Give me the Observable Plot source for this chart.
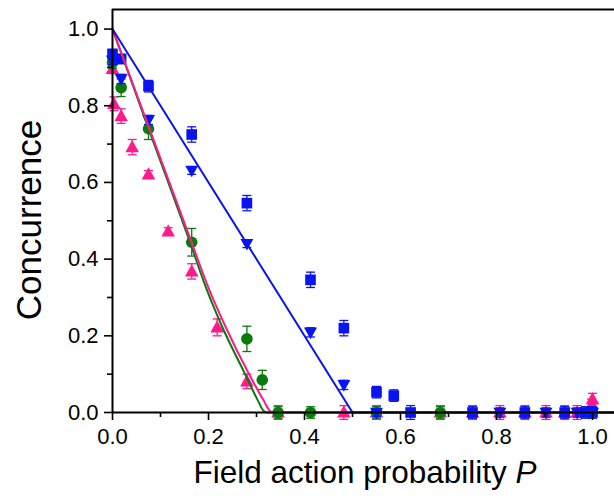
<!DOCTYPE html>
<html><head><meta charset="utf-8">
<script src="https://cdn.jsdelivr.net/npm/d3@7"></script>
<script src="https://cdn.jsdelivr.net/npm/@observablehq/plot@0.6"></script>
<style>body{margin:0;background:#fff} #chart svg{display:block}</style>
</head><body><div id="chart"></div>
<script>
// ---- data ----
const P_sq = [0, 0.018, 0.075, 0.165, 0.28, 0.4125, 0.482, 0.55, 0.586, 0.621, 0.75, 0.859, 0.942, 0.985, 1.0];
const C_sq = [0.935, 0.922, 0.851, 0.725, 0.546, 0.346, 0.22, 0.053, 0.044, 0, 0, 0, 0, 0, 0];
const E_sq = [0.012, 0.012, 0.015, 0.02, 0.02, 0.02, 0.02, 0.015, 0.015, 0.018, 0.015, 0.015, 0.015, 0.015, 0.015];

const P_dt = [0, 0.018, 0.075, 0.165, 0.28, 0.4125, 0.482, 0.55, 0.807, 0.903, 0.968, 1.0];
const C_dt = [0.918, 0.870, 0.763, 0.631, 0.44, 0.209, 0.072, 0, 0, 0, 0, 0];
const E_dt = [0.01, 0.012, 0.012, 0.01, 0.01, 0.012, 0.012, 0.01, 0.012, 0.012, 0.012, 0.01];

const P_ci = [0, 0.018, 0.075, 0.165, 0.28, 0.312, 0.345, 0.4125, 0.55, 0.683];
const C_ci = [0.913, 0.847, 0.740, 0.444, 0.192, 0.085, 0, 0, 0, 0];
const E_ci = [0.015, 0.023, 0.028, 0.036, 0.033, 0.025, 0.015, 0.015, 0.015, 0.015];

const P_tr = [0, 0.003, 0.018, 0.041, 0.075, 0.116, 0.165, 0.218, 0.28, 0.345, 0.482, 0.55, 0.683, 0.75, 0.807, 0.859, 0.903, 0.942, 0.968, 0.998, 1.0];
const C_tr = [0.896, 0.805, 0.773, 0.692, 0.621, 0.472, 0.368, 0.222, 0.081, 0, 0, 0, 0, 0, 0, 0, 0, 0, 0, 0.02, 0.035];
const E_tr = [0.012, 0.018, 0.019, 0.02, 0.01, 0.01, 0.02, 0.022, 0.019, 0.018, 0.018, 0.018, 0.018, 0.018, 0.018, 0.018, 0.018, 0.018, 0.018, 0.015, 0.015];

// theory curves
const P_lineBlue = [0, 0.5, 1.05];
const C_lineBlue = [1, 0, 0];
const P_lineGreen = [0, 0.078, 0.157, 0.195, 0.228, 0.276, 0.303, 0.315, 0.322, 1.05];
const C_lineGreen = [1, 0.73, 0.46, 0.325, 0.225, 0.101, 0.031, 0.004, 0, 0];
const P_linePink = [0, 0.08, 0.16, 0.2, 0.235, 0.284, 0.315, 0.328, 0.336, 1.05];
const C_linePink = [1, 0.73, 0.46, 0.325, 0.225, 0.101, 0.031, 0.004, 0, 0];

const xMajor = [0, 0.2, 0.4, 0.6, 0.8, 1.0];
const xMinor = [0.1, 0.3, 0.5, 0.7, 0.9];
const yMajor = [0, 0.2, 0.4, 0.6, 0.8, 1.0];
const yMinor = [0.1, 0.3, 0.5, 0.7, 0.9];

const BLUE = "#0a14f0", GREEN = "#0a7a0a", PINK = "#ff1a8c";

const toRows = (P, C, E) => P.map((p, i) => ({P: p, C: C[i], E: E ? E[i] : 0}));
const sq = toRows(P_sq, C_sq, E_sq);
const dt = toRows(P_dt, C_dt, E_dt);
const ci = toRows(P_ci, C_ci, E_ci);
const tr = toRows(P_tr, C_tr, E_tr);
const lb = toRows(P_lineBlue, C_lineBlue);
const lg = toRows(P_lineGreen, C_lineGreen);
const lp = toRows(P_linePink, C_linePink);

// custom symbols
const capSym = {draw(ctx, size) { const r = Math.sqrt(size / Math.PI); ctx.moveTo(-r, 0); ctx.lineTo(r, 0); }};
const triUp = {draw(ctx, size) { const r = Math.sqrt(size / Math.PI); ctx.moveTo(0, -r * 1.05); ctx.lineTo(r, r * 0.75); ctx.lineTo(-r, r * 0.75); ctx.closePath(); }};
const triDown = {draw(ctx, size) { const r = Math.sqrt(size / Math.PI); ctx.moveTo(0, r * 1.05); ctx.lineTo(r, -r * 0.75); ctx.lineTo(-r, -r * 0.75); ctx.closePath(); }};

function errMarks(data, color) {
  return [
    Plot.ruleX(data, {x: "P", y1: d => d.C - d.E, y2: d => d.C + d.E, stroke: color, strokeWidth: 1.3}),
    Plot.dot(data, {x: "P", y: d => d.C + d.E, symbol: capSym, r: 4.5, stroke: color, strokeWidth: 1.3, fill: "none"}),
    Plot.dot(data, {x: "P", y: d => d.C - d.E, symbol: capSym, r: 4.5, stroke: color, strokeWidth: 1.3, fill: "none"})
  ];
}

const yMax = 1.051;
const chart = Plot.plot({
  width: 614, height: 496,
  marginLeft: 112, marginRight: 0, marginTop: 9, marginBottom: 84,
  x: {domain: [0, 1.0458]},
  y: {domain: [0, yMax]},
  style: {fontFamily: "'Liberation Sans', Arial, Helvetica, sans-serif", background: "#fff", color: "#000"},
  marks: [
    ...errMarks(tr, PINK),
    Plot.dot(tr, {x: "P", y: "C", symbol: triUp, r: 6.8, fill: PINK}),
    ...errMarks(ci, GREEN),
    Plot.dot(ci, {x: "P", y: "C", symbol: "circle", r: 5.8, fill: GREEN}),
    ...errMarks(dt, BLUE),
    Plot.dot(dt, {x: "P", y: "C", symbol: triDown, r: 6.5, fill: BLUE}),
    ...errMarks(sq, BLUE),
    Plot.dot(sq, {x: "P", y: "C", symbol: "square", r: 6, fill: BLUE}),
    Plot.line(lg, {x: "P", y: "C", stroke: GREEN, strokeWidth: 2, curve: "monotone-x"}),
    Plot.line(lp, {x: "P", y: "C", stroke: PINK, strokeWidth: 2, curve: "monotone-x"}),
    Plot.line(lb, {x: "P", y: "C", stroke: BLUE, strokeWidth: 2}),
    // axes
    Plot.axisX({ticks: xMajor, tickSize: 8, tickPadding: 8, fontSize: 22, tickFormat: d => d.toFixed(1), label: null, strokeWidth: 1.6}),
    Plot.axisX({ticks: xMinor, tickSize: 5, tickFormat: () => "", label: null, strokeWidth: 1.6}),
    Plot.axisY({ticks: yMajor, tickSize: 8, tickPadding: 6, fontSize: 22, tickFormat: d => d.toFixed(1), label: null, strokeWidth: 1.6}),
    Plot.axisY({ticks: yMinor, tickSize: 5, tickFormat: () => "", label: null, strokeWidth: 1.6}),
    Plot.ruleY([0], {stroke: "#000", strokeWidth: 2}),
    Plot.ruleY([yMax], {stroke: "#000", strokeWidth: 2}),
    Plot.ruleX([0], {stroke: "#000", strokeWidth: 2})
  ]
});

document.getElementById("chart").appendChild(chart);

// axis titles (real text, with italic P)
const svg = d3.select(chart);
const xt = svg.append("text")
  .attr("x", 365).attr("y", 483)
  .attr("text-anchor", "middle")
  .attr("font-size", 31.5)
  .attr("fill", "#000")
  .attr("font-family", "'Liberation Sans', Arial, sans-serif");
xt.append("tspan").text("Field action probability ");
xt.append("tspan").attr("font-style", "italic").text("P");

svg.append("text")
  .attr("transform", "translate(41,220) rotate(-90)")
  .attr("text-anchor", "middle")
  .attr("font-size", 35)
  .attr("fill", "#000")
  .attr("font-family", "'Liberation Sans', Arial, sans-serif")
  .text("Concurrence");
</script></body></html>
